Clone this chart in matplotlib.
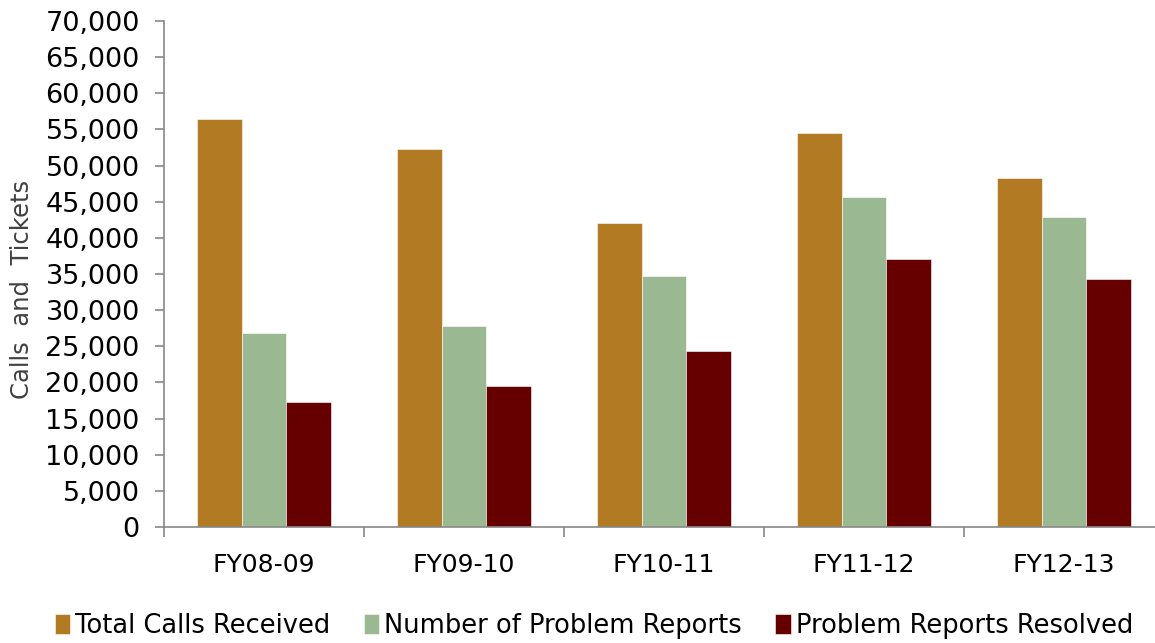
import numpy as np
import matplotlib.pyplot as plt
from matplotlib.ticker import FuncFormatter

years = ['FY08-09', 'FY09-10', 'FY10-11', 'FY11-12', 'FY12-13']
total_calls = [56500, 52300, 42000, 54500, 48300]
problem_reports = [26800, 27800, 34700, 45600, 42900]
reports_resolved = [17300, 19500, 24300, 37100, 34300]
series_names = ['Total Calls Received', 'Number of Problem Reports', 'Problem Reports Resolved']
colors = ['#B27A22', '#9AB891', '#660000']

plt.rcParams['font.family'] = ['DejaVu Sans']

fig = plt.figure(figsize=(11.55, 6.43), dpi=100)
ax = fig.add_axes([164 / 1155, 1 - 527 / 643, (1164 - 164) / 1155, (527 - 21) / 643])

x = np.arange(len(years))
w = 0.222
for i, vals in enumerate([total_calls, problem_reports, reports_resolved]):
    ax.bar(x + (i - 1) * w, vals, width=w, color=colors[i], label=series_names[i],
           edgecolor='white', linewidth=0.4)

ax.set_xlim(-0.5, len(years) - 0.5)
ax.set_ylim(0, 70000)
ax.set_yticks(range(0, 70001, 5000))
ax.yaxis.set_major_formatter(FuncFormatter(lambda v, p: f'{int(v):,}'))
ax.set_xticks(x)
ax.set_xticklabels(years)
ax.set_xticks(np.arange(-0.5, len(years), 1), minor=True)
ax.tick_params(axis='x', which='major', length=0, pad=19, labelsize=18)
ax.tick_params(axis='x', which='minor', length=7, color='#888888', width=1.2)
ax.tick_params(axis='y', length=6.5, color='#888888', width=1.2, labelsize=19.5, pad=11)

for s in ['top', 'right']:
    ax.spines[s].set_visible(False)
for s in ['left', 'bottom']:
    ax.spines[s].set_color('#888888')
    ax.spines[s].set_linewidth(1.2)

fig.text(22 / 1155, 1 - 289 / 643, 'Calls  and  Tickets', rotation=90, ha='center', va='center',
         fontsize=17.5, color='#404040')

handles, labels = ax.get_legend_handles_labels()
fig.legend(handles, labels, loc='center', bbox_to_anchor=(594 / 1155, 1 - 626 / 643), ncol=3,
           frameon=False, fontsize=18.5, handlelength=0.6, handleheight=0.8, handletextpad=0.2,
           columnspacing=1.3, borderaxespad=0, borderpad=0)

fig.savefig('out.png', dpi=100)
